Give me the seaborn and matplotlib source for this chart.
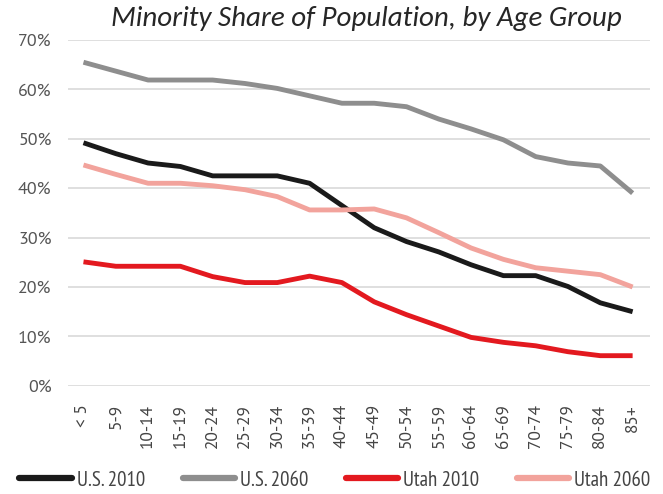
import matplotlib
matplotlib.use("Agg")
import matplotlib.pyplot as plt
import pandas as pd
import seaborn as sns

# Age groups and minority share (%) per series
ages = ['< 5', '5-9', '10-14', '15-19', '20-24', '25-29', '30-34', '35-39', '40-44',
        '45-49', '50-54', '55-59', '60-64', '65-69', '70-74', '75-79', '80-84', '85+']
us_2010 = [49.2, 47.0, 45.1, 44.4, 42.5, 42.5, 42.5, 41.0, 36.5,
           32.0, 29.2, 27.1, 24.5, 22.3, 22.3, 20.1, 16.8, 15.0]
us_2060 = [65.5, 63.7, 61.9, 61.9, 61.9, 61.2, 60.2, 58.7, 57.2,
           57.2, 56.5, 54.0, 52.0, 49.8, 46.4, 45.1, 44.5, 39.0]
utah_2010 = [25.1, 24.2, 24.2, 24.2, 22.1, 20.9, 20.9, 22.2, 20.9,
             17.0, 14.4, 12.1, 9.8, 8.8, 8.1, 6.9, 6.1, 6.1]
utah_2060 = [44.7, 42.8, 41.0, 41.0, 40.5, 39.7, 38.3, 35.6, 35.6,
             35.8, 34.0, 31.0, 27.9, 25.6, 23.9, 23.2, 22.5, 20.0]
series_names = ['U.S. 2010', 'U.S. 2060', 'Utah 2010', 'Utah 2060']
colors = ['#1a1a1a', '#8e8e8e', '#e3191f', '#f2a39c']

frames = []
for name, vals in zip(series_names, [us_2010, us_2060, utah_2010, utah_2060]):
    frames.append(pd.DataFrame({'pos': range(len(ages)), 'share': vals, 'series': name}))
df = pd.concat(frames, ignore_index=True)

sns.set_style('white')
plt.rcParams['font.family'] = ['PT Sans', 'DejaVu Sans']

fig = plt.figure(figsize=(6.63, 4.94), dpi=100)
ax = fig.add_axes([0.103, 0.219, 0.877, 0.70])

sns.lineplot(data=df, x='pos', y='share', hue='series', hue_order=series_names,
             palette=colors, linewidth=3.5, ax=ax, legend=False,
             solid_capstyle='butt', solid_joinstyle='round')

ax.set_ylim(0, 70)
ax.set_xlim(-0.47, 17.53)
ax.set_yticks(range(0, 71, 10))
ax.set_yticklabels([f'{v}%' for v in range(0, 71, 10)], fontsize=13, color='#555555')
ax.set_xticks(range(len(ages)))
ax.set_xticklabels(ages, rotation=90, fontsize=12.5, color='#444444')
ax.tick_params(axis='y', length=0, pad=12)
ax.tick_params(axis='x', length=0, pad=13)
ax.yaxis.grid(True, color='#d9d9d9', linewidth=1.2)
ax.set_axisbelow(True)
for s in ax.spines.values():
    s.set_visible(False)
ax.set_xlabel('')
ax.set_ylabel('')

fig.text(0.553, 0.963, 'Minority Share of Population, by Age Group', ha='center', va='center',
         fontsize=20.9, style='italic', family='Carlito')

handles = [plt.Line2D([], [], color=c, linewidth=4.5) for c in colors]
fig.legend(handles, series_names, loc='center', bbox_to_anchor=(0.505, 0.028), ncol=4,
           frameon=False, prop={'family': 'PT Sans Narrow', 'size': 15},
           handlelength=2.5, columnspacing=1.8, handletextpad=0.25, labelcolor='#444444')

fig.savefig('out.png', dpi=100)
